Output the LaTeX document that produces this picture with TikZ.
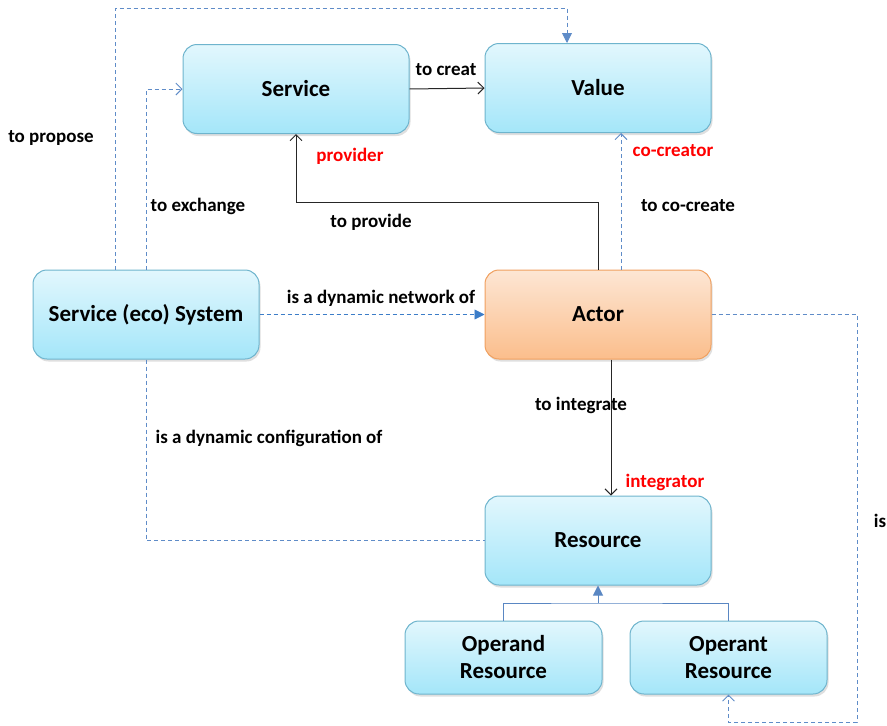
\documentclass[tikz,border=0pt]{standalone}
\usepackage{fontspec}
\setmainfont{Carlito}
\usetikzlibrary{arrows.meta,shadows,calc}
\definecolor{boxtop}{RGB}{226,247,253}
\definecolor{boxbot}{RGB}{164,230,249}
\definecolor{boxline}{RGB}{110,180,205}
\definecolor{acttop}{RGB}{253,230,212}
\definecolor{actbot}{RGB}{251,190,140}
\definecolor{actline}{RGB}{240,160,95}
\definecolor{dashblue}{RGB}{95,140,200}
\definecolor{netblue}{RGB}{60,125,200}
\definecolor{solidblue}{RGB}{90,135,195}
\definecolor{lblred}{RGB}{255,0,0}
\tikzset{
  box/.style={draw=boxline, line width=1pt, rounded corners=14pt, top color=boxtop, bottom color=boxbot,
     minimum width=226pt, minimum height=89pt, inner sep=0pt, align=center,
     font=\fontsize{23}{26}\selectfont\bfseries,
     drop shadow={opacity=0.25, shadow xshift=1.5pt, shadow yshift=-2.5pt}},
  actbox/.style={box, draw=actline, top color=acttop, bottom color=actbot},
  smallbox/.style={box, minimum width=197pt, minimum height=73pt},
  lbl/.style={font=\fontsize{19}{22}\selectfont\bfseries, inner sep=0pt},
  rlbl/.style={lbl, text=lblred},
  dashln/.style={draw=dashblue, line width=0.9pt, dash pattern=on 4pt off 3pt},
  openarr/.style={-{Straight Barb[length=6pt,width=12pt]}},
  fillarr/.style={-{Triangle[length=10pt,width=10pt]}},
  solidln/.style={draw=black!85, line width=1pt}
}
\begin{document}
\begin{tikzpicture}[x=1pt,y=-1pt]
\useasboundingbox (0,0) rectangle (887,726);
% nodes
\node[box] (service) at (296,89) {Service};
\node[box] (value) at (598,88) {Value};
\node[box] (ses) at (146,314.5) {Service (eco) System};
\node[actbox] (actor) at (598,314.5) {Actor};
\node[box] (resource) at (598,540.5) {Resource};
\node[smallbox] (operand) at (503.5,657.5) {Operand\\[1pt]Resource};
\node[smallbox] (operant) at (728.5,657.5) {Operant\\[1pt]Resource};
% coordinates
\coordinate (ptop) at (115,8);
\coordinate (prov) at (598,202);
\coordinate (jn) at (598,603);
\coordinate (isc) at (857,722);
% connectors
\draw[solidln, openarr] (service.east) -- (value.west);
\draw[solidln, openarr] (actor.north) -- (prov) -| (service.south);
\draw[dashln, openarr] ([xshift=23pt]actor.north) -- ([xshift=23pt]value.south);
\draw[dashln, fillarr] ([xshift=-31pt]ses.north) -- (ptop) -| ([xshift=-31pt]value.north);
\draw[dashln, openarr] (ses.north) |- (service.west);
\draw[dashln, draw=netblue, fillarr] (ses.east) -- (actor.west);
\draw[dashln] (ses.south) |- (resource.west);
\draw[solidln, openarr] ([xshift=13pt]actor.south) -- ([xshift=13pt]resource.north);
\draw[solidblue, line width=1pt] (operand.north) |- (jn) -| (operant.north);
\draw[solidblue, line width=1pt, fillarr] (jn) -- (resource.south);
\draw[dashln, openarr] (actor.east) -| (isc) -| (operant.south);
% labels
\node[lbl] (l1) at (446,70) {to creat};
\node[rlbl] (l2) at (350,156) {provider};
\node[lbl] (l3) at (371,222) {to provide};
\node[rlbl] (l4) at (673,151) {co-creator};
\node[lbl] (l5) at (688,206) {to co-create};
\node[lbl] (l6) at (51,138) {to propose};
\node[lbl] (l7) at (198,206) {to exchange};
\node[lbl] (l8) at (381,298) {is a dynamic network of};
\node[lbl] (l9) at (269,438) {is a dynamic configuration of};
\node[lbl] (l10) at (581,405) {to integrate};
\node[rlbl] (l11) at (665,482) {integrator};
\node[lbl] (l12) at (880,521) {is};
\end{tikzpicture}
\end{document}
